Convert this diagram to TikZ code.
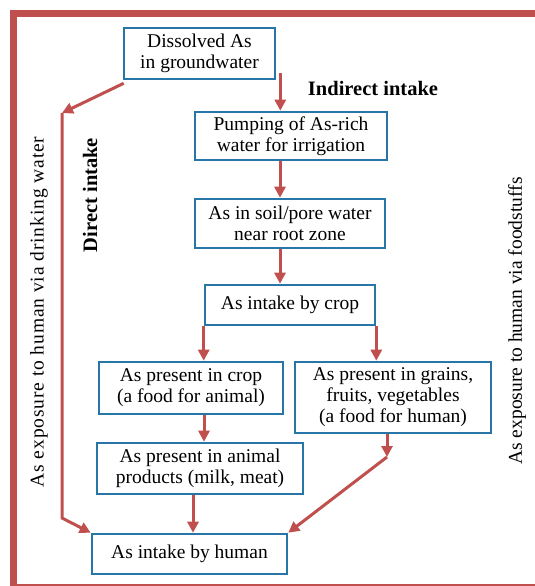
\documentclass[tikz,border=0pt]{standalone}
\usepackage{fontspec}
\setmainfont{Liberation Serif}
\newfontfamily\spacedserif[LetterSpace=4.5]{Liberation Serif}
\usetikzlibrary{arrows.meta,calc}
\definecolor{framered}{RGB}{192,80,77}
\definecolor{boxblue}{RGB}{40,118,168}
\tikzset{
  box/.style={draw=boxblue, line width=2.6pt, fill=white, inner sep=0pt, align=center,
    font=\fontsize{19.5}{21}\selectfont},
  arr/.style={draw=framered, line width=3pt, -{Triangle[length=11pt,width=11pt]}},
  lbl/.style={font=\fontsize{19.5}{21}\selectfont, inner sep=0pt},
  blbl/.style={font=\fontsize{20.5}{22}\selectfont\bfseries, inner sep=0pt}
}
\begin{document}
\begin{tikzpicture}[x=1pt,y=-1pt]
\useasboundingbox (0,0) rectangle (535,586);
\clip (0,0) rectangle (535,586);
\fill[white] (0,0) rectangle (535,586);
\draw[framered, line width=7pt] (13.5,13.5) rectangle (560,587);

\node[box, minimum width=151pt, minimum height=51pt] (dis) at (199.5,53.5) {Dissolved As\\in groundwater};
\node[box, minimum width=192pt, minimum height=48pt] (pump) at (291,136) {Pumping of As-rich\\water for irrigation};
\node[box, minimum width=190pt, minimum height=49pt] (soil) at (290,223.5) {As in soil/pore water\\near root zone};
\node[box, minimum width=170pt, minimum height=40pt] (cropi) at (290,305) {As intake by crop};
\node[box, minimum width=184pt, minimum height=52pt] (cropa) at (191,388) {As present in crop\\(a food for animal)};
\node[box, minimum width=196pt, minimum height=71pt] (grains) at (393,397.5) {As present in grains,\\fruits, vegetables\\(a food for human)};
\node[box, minimum width=206pt, minimum height=51pt] (animal) at (200,468.5) {As present in animal\\products (milk, meat)};
\node[box, minimum width=195pt, minimum height=40pt] (human) at (189.5,554) {As intake by human};

\node[blbl] (ind) at (373,88) {Indirect intake};
\node[blbl, rotate=90] (dir) at (90,195) {Direct intake};
\node[lbl, rotate=90] (dw) at (39,312) {\spacedserif As exposure to human via drinking water};
\node[lbl, rotate=90] (fs) at (517,321) {As exposure to human via foodstuffs};

\coordinate (ax) at (280,0);
\coordinate (ax2) at (204,0);
\coordinate (ax3) at (193,0);
\coordinate (gb) at (387,457);
\coordinate (lb) at (62,113);
\coordinate (lc) at (62,518);

\draw[arr] ($(dis.south east)+(4,-7)$) -- ($(dis.south east |- pump.north)+(4,0)$);
\draw[arr] (pump.south -| ax) -- (soil.north -| ax);
\draw[arr] (soil.south -| ax) -- (cropi.north -| ax);
\draw[arr] (cropi.south west) -- (cropi.south west |- cropa.north);
\draw[arr] (cropi.south east) -- (cropi.south east |- grains.north);
\draw[arr] (cropa.south -| ax2) -- (animal.north -| ax2);
\draw[arr] (animal.south -| ax3) -- (human.north -| ax3);
\draw[arr] (grains.south -| gb) -- (gb);
\draw[arr] (gb) -- (human.north east);
\draw[arr] ($(dis.south west)+(1,3)$) -- (lb);
\draw[arr] (lb) -- (lc) -- (human.north west);
\end{tikzpicture}
\end{document}
